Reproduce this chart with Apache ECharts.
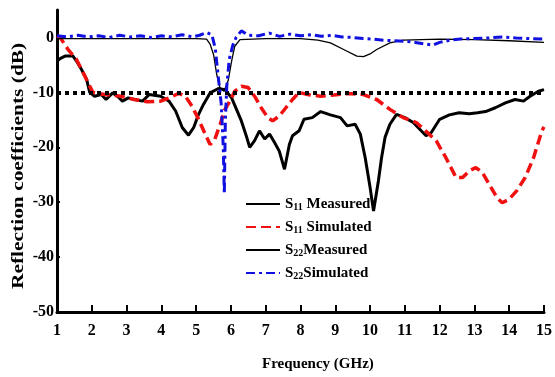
<!DOCTYPE html>
<html>
<head>
<meta charset="utf-8">
<script src="https://cdn.jsdelivr.net/npm/echarts@6/dist/echarts.min.js"></script>
<style>
html,body{margin:0;padding:0;background:#fff;}
#c{width:555px;height:377px;}
</style>
</head>
<body>
<div id="c"></div>
<script>
// Frequency (GHz) and reflection coefficient (dB) pairs
var s11MeasFreq = [1.0,1.1,1.23,1.46,1.56,1.7,1.85,1.94,2.08,2.27,2.41,2.6,2.74,2.88,3.05,3.22,3.46,3.65,3.98,4.22,4.41,4.6,4.78,4.93,5.07,5.21,5.4,5.64,5.83,6.02,6.16,6.3,6.44,6.54,6.68,6.82,6.97,7.11,7.25,7.39,7.54,7.68,7.77,7.96,8.1,8.34,8.58,8.86,9.15,9.34,9.57,9.72,9.86,10.0,10.1,10.24,10.33,10.43,10.57,10.76,11.0,11.24,11.47,11.61,11.76,12.0,12.28,12.56,12.85,13.09,13.32,13.6,13.89,14.17,14.41,14.6,14.84,15.0];
var s11MeasDb = [-4.3,-3.8,-3.4,-3.4,-4.3,-5.8,-7.6,-10,-10.7,-10.4,-11.3,-10.1,-10.7,-11.6,-11.0,-11.3,-11.6,-10.4,-10.7,-11.6,-13.4,-16.4,-17.8,-16.4,-14,-12.2,-10.1,-9.3,-9.5,-11,-13.1,-15.2,-17.9,-20,-18.8,-17,-18.5,-17.6,-19.1,-20.7,-24,-19.5,-17.9,-17,-14.9,-14.6,-13.5,-14.1,-14.6,-16.1,-15.8,-17.6,-21.9,-27.3,-31.6,-26.1,-21.9,-18.2,-15.8,-14,-14.6,-15.5,-17,-17.9,-17.3,-14.9,-14.1,-13.7,-13.9,-13.7,-13.5,-12.8,-11.9,-11.3,-11.6,-10.7,-9.8,-9.5];

var s11SimFreq = [1.0,1.09,1.32,1.56,1.75,1.89,2.03,2.37,2.84,3.22,3.6,3.98,4.26,4.5,4.69,4.88,5.07,5.26,5.4,5.54,5.69,5.83,5.97,6.11,6.3,6.49,6.68,6.87,7.06,7.2,7.39,7.58,7.77,7.96,8.2,8.58,8.96,9.34,9.81,10.19,10.57,10.95,11.33,11.61,11.9,12.18,12.47,12.66,12.85,13.04,13.23,13.42,13.65,13.8,13.99,14.22,14.46,14.7,14.94,15.0];
var s11SimDb = [0.3,0,-2.2,-4,-6.4,-8.2,-10,-10.4,-10.7,-11.3,-11.7,-11.6,-10.9,-10.2,-10.7,-12.5,-14.9,-17.6,-19.5,-18.5,-15.8,-13.1,-11.6,-9.8,-8.9,-9.1,-10.7,-12.8,-14.6,-15.2,-14.3,-12.8,-11.3,-10,-10.4,-10.7,-10.5,-10.2,-10.4,-11.3,-13.1,-14.6,-15.5,-17.1,-18.8,-21.9,-25.5,-25.5,-24.3,-23.7,-24.6,-26.7,-29.2,-30.1,-29.5,-27.9,-25.5,-21.9,-17,-16.3];

var s22MeasFreq = [1,2,3,4,5,5.3,5.4,5.5,5.59,5.69,5.8,5.92,6.02,6.11,6.26,7,8,8.5,8.86,9.24,9.62,9.81,10.0,10.19,10.57,10.95,12,13,14,15];
var s22MeasDb = [-0.2,-0.2,-0.2,-0.2,-0.2,-0.3,-1.2,-3.1,-6.7,-9.3,-9.8,-7.9,-4.3,-1.6,-0.4,-0.2,-0.2,-0.5,-1,-2.2,-3.4,-3.5,-3.0,-2.2,-1,-0.5,-0.3,-0.4,-0.6,-0.9];

var s22SimFreq = [1,1.3,1.6,1.9,2.2,2.5,2.8,3.1,3.4,3.7,4.0,4.3,4.6,4.9,5.1,5.3,5.45,5.55,5.65,5.72,5.78,5.81,5.84,5.88,5.95,6.05,6.15,6.3,6.5,6.8,7.1,7.4,7.7,8.0,8.3,8.6,8.9,9.2,9.5,9.8,10.1,10.4,10.7,11.0,11.3,11.6,11.8,12.0,12.3,12.6,13.0,13.4,13.8,14.2,14.6,15];
var s22SimDb = [0.3,0.1,0.4,0.1,0.3,0,0.4,0.1,0.3,0,0.3,0.1,0.5,0.1,0.4,0.9,0.5,-2,-8,-12,-20,-28.5,-15,-9,-4,-1.5,0,1.2,0.4,0.3,0.8,0.2,0.6,0.3,0.5,0.2,0.4,0.1,0,-0.2,-0.3,-0.5,-0.6,-0.7,-0.9,-1.2,-1.4,-0.9,-0.5,-0.3,-0.2,-0.1,0.1,-0.1,-0.2,-0.3];

var xTicks = [1,2,3,4,5,6,7,8,9,10,11,12,13,14,15];
var yTicks = [0,-10,-20,-30,-40,-50];
var thresholdDb = -10;

var seriesNames = ['S11 Measured','S11 Simulated','S22 Measured','S22 Simulated'];

function pairs(xs, ys){ return xs.map(function(x,i){ return [x, ys[i]]; }); }

var font = '"Liberation Serif","Times New Roman",serif';
var chart = echarts.init(document.getElementById('c'), null, {renderer:'canvas'});
chart.setOption({
  animation:false,
  backgroundColor:'#fff',
  grid:{left:57,right:6,top:10,bottom:65,containLabel:false},
  xAxis:{
    type:'value',min:1,max:15,interval:1,
    axisLine:{show:true,onZero:false,lineStyle:{color:'#000',width:3}},
    axisTick:{show:true,inside:true,length:7,lineStyle:{color:'#000',width:2}},
    axisLabel:{color:'#000',fontFamily:font,fontWeight:'bold',fontSize:16,margin:11,showMinLabel:true,showMaxLabel:true},
    splitLine:{show:false}
  },
  yAxis:{
    type:'value',min:-50,max:5,interval:10,
    axisLine:{show:true,onZero:false,lineStyle:{color:'#000',width:3}},
    axisTick:{show:true,inside:true,length:3,lineStyle:{color:'#000',width:2},customValues:yTicks},
    axisLabel:{color:'#000',fontFamily:font,fontWeight:'bold',fontSize:16,margin:3,customValues:yTicks,
      formatter:function(v){ return yTicks.indexOf(v)>=0 ? String(v) : ''; }},
    splitLine:{show:false}
  },
  legend:{
    orient:'vertical',left:245,top:196,padding:0,itemWidth:34,itemHeight:14,itemGap:7,
    data:seriesNames,
    itemStyle:{opacity:0},
    textStyle:{color:'#000',fontFamily:font,fontWeight:'bold',fontSize:15,
      rich:{
        s:{fontFamily:font,fontWeight:'bold',fontSize:15,lineHeight:16,color:'#000'},
        sub:{fontFamily:font,fontWeight:'bold',fontSize:10,lineHeight:10,color:'#000',padding:[6,0,0,0]},
        t:{fontFamily:font,fontWeight:'bold',fontSize:15,lineHeight:16,color:'#000'}
      }},
    formatter:function(name){
      var p = name.split(' ');
      return '{s|S}{sub|' + p[0].slice(1) + '}{t|' + (p[0]==='S22'?'':' ') + p[1] + '}';
    }
  },
  graphic:[
    {type:'text',left:262,top:357,style:{text:'Frequency (GHz)',font:'bold 15px ' + font,fill:'#000'}},
    {type:'text',x:10,y:289,rotation:Math.PI/2,scaleX:1.26,scaleY:1,style:{text:'Reflection coefficients (dB)',font:'bold 17px ' + font,fill:'#000'}}
  ],
  series:[
    {name:seriesNames[0],type:'line',showSymbol:false,symbol:'none',data:pairs(s11MeasFreq,s11MeasDb),
      lineStyle:{color:'#000',width:3},itemStyle:{color:'#000'},z:3,
      markLine:{silent:true,symbol:'none',label:{show:false},
        lineStyle:{color:'#000',width:4,type:[4,4]},data:[{yAxis:thresholdDb}]}},
    {name:seriesNames[1],type:'line',showSymbol:false,symbol:'none',data:pairs(s11SimFreq,s11SimDb),
      lineStyle:{color:'#f01010',width:3.5,type:[10,5]},itemStyle:{color:'#f01010'},z:4},
    {name:seriesNames[2],type:'line',showSymbol:false,symbol:'none',data:pairs(s22MeasFreq,s22MeasDb),
      lineStyle:{color:'#000',width:1.3},itemStyle:{color:'#000'},z:5},
    {name:seriesNames[3],type:'line',showSymbol:false,symbol:'none',data:pairs(s22SimFreq,s22SimDb),
      lineStyle:{color:'#1010e0',width:3,type:[9,4,3,4]},itemStyle:{color:'#1010e0'},z:6}
  ]
});
</script>
</body>
</html>
